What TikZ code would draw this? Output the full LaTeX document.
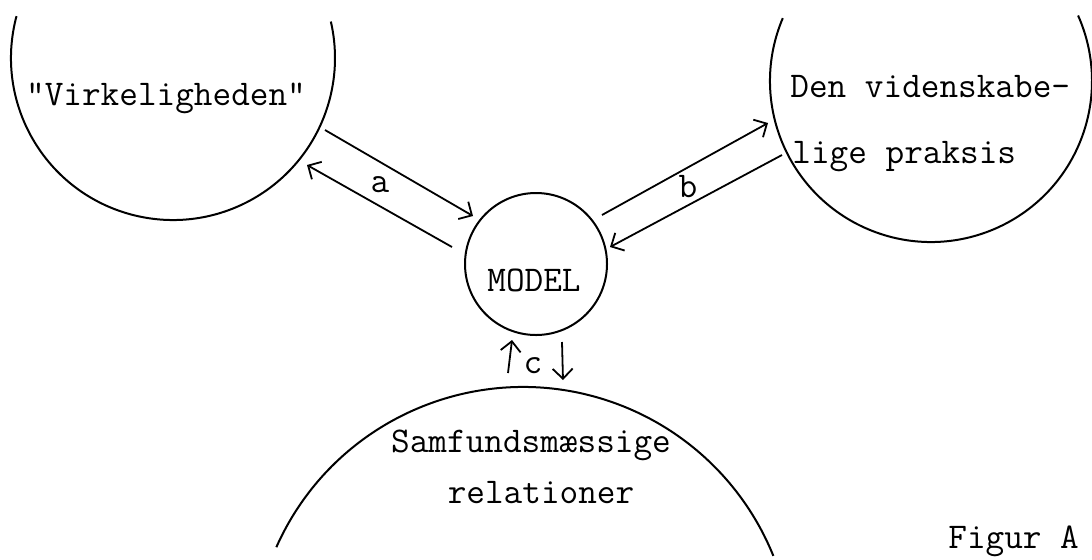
\documentclass[tikz,border=0pt]{standalone}
\usepackage{fontspec}
\usetikzlibrary{arrows.meta}
\begin{document}
\begin{tikzpicture}[x=0.5pt,y=-0.5pt,
  ring/.style={line width=1pt},
  conn/.style={line width=0.9pt,-{Straight Barb[length=5pt,width=10pt,line width=0.9pt]}},
  txt/.style={inner sep=0pt,font=\ttfamily\fontsize{18.1pt}{21pt}\selectfont},
  lbl/.style={inner sep=0pt,font=\ttfamily\fontsize{18.1pt}{21pt}\selectfont}]
\useasboundingbox (0,0) rectangle (1092,559);
% big circles (partial arcs)
\coordinate (V) at (173,58);
\coordinate (D) at (931,81);
\coordinate (S) at (523,657);
\draw[ring] (V) ++(-165:162) arc[start angle=-165,end angle=-373,radius=162];
\draw[ring] (D) ++(-157:161) arc[start angle=-157,end angle=-384,radius=161];
\draw[ring] (S) ++(-156:270) arc[start angle=-156,end angle=-22,radius=270];
% model circle
\node[ring,draw,circle,minimum size=71pt,inner sep=0pt] (M) at (536,264) {};
% texts
\node[txt,anchor=base] (tV) at (166,105) {"Virkeligheden"};
\node[txt,anchor=base west] (tD1) at (790,97) {Den videnskabe-};
\node[txt,anchor=base west] (tD2) at (792,163) {lige praksis};
\node[txt,anchor=base] (tM) at (534,291) {MODEL};
\node[txt,anchor=base] (tS1) at (531,452) {Samfundsmæssige};
\node[txt,anchor=base] (tS2) at (541,503) {relationer};
\node[txt,anchor=base west] (tF) at (948,548) {Figur A};
% connector end points
\coordinate (a1s) at (325,130); \coordinate (a1e) at (473,216);
\coordinate (a2s) at (452,247); \coordinate (a2e) at (307,165);
\coordinate (b1s) at (602,215); \coordinate (b1e) at (768,123);
\coordinate (b2s) at (782,155); \coordinate (b2e) at (610,247);
\coordinate (c1s) at (508,373); \coordinate (c1e) at (512,340);
\coordinate (c2s) at (562,342); \coordinate (c2e) at (563,380);
\draw[conn] (a1s) -- (a1e);
\draw[conn] (a2s) -- (a2e);
\draw[conn] (b1s) -- (b1e);
\draw[conn] (b2s) -- (b2e);
\draw[conn] (c1s) -- (c1e);
\draw[conn] (c2s) -- (c2e);
\node[lbl,anchor=base] (la) at (380,192) {a};
\node[lbl,anchor=base] (lb) at (688,197) {b};
\node[lbl,anchor=base] (lc) at (533,373) {c};
\end{tikzpicture}
\end{document}
